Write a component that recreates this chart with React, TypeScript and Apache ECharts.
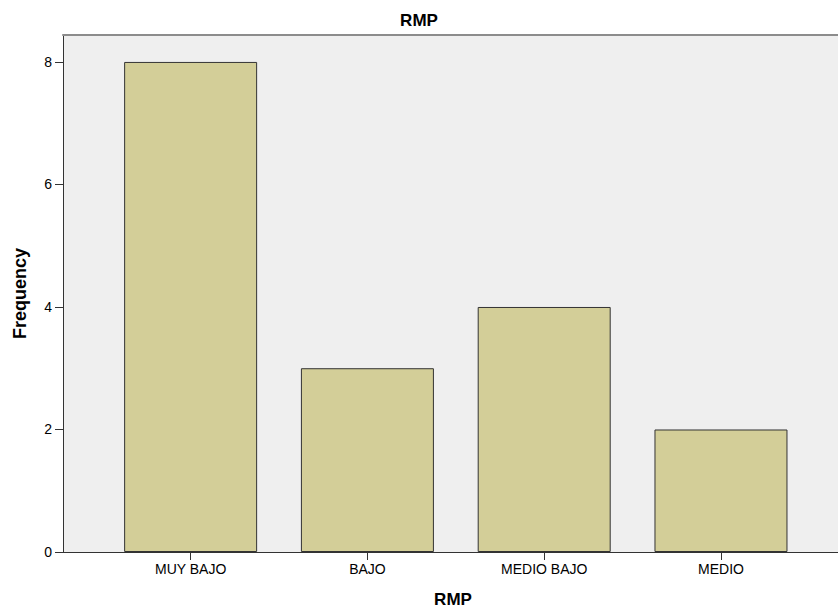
import React, { useEffect, useRef } from "react";
import * as echarts from "echarts";

const categories = ["MUY BAJO", "BAJO", "MEDIO BAJO", "MEDIO"];
const frequencies = [8, 3, 4, 2];
const yTicks = [0, 2, 4, 6, 8];
const chartTitle = "RMP";
const xName = "RMP";
const yName = "Frequency";

export default function App() {
  const ref = useRef<HTMLDivElement>(null);
  useEffect(() => {
    if (!ref.current) return;
    const chart = echarts.init(ref.current, null, { renderer: "svg" });
    const font = "'Liberation Sans', Arial, sans-serif";
    const catIdx = categories.map((_, i) => i);
    chart.setOption({
      animation: false,
      backgroundColor: "#ffffff",
      title: {
        text: chartTitle,
        left: "center",
        top: 7,
        textStyle: { fontFamily: font, fontSize: 17, fontWeight: "bold", color: "#000" },
      },
      grid: {
        left: 63,
        right: 0,
        top: 35,
        bottom: 57,
        outerBoundsMode: "none",
        containLabel: false,
        show: true,
        backgroundColor: "#efefef",
        borderWidth: 0,
      },
      xAxis: [
        {
          type: "value",
          min: -0.722,
          max: 3.662,
          position: "bottom",
          name: xName,
          nameLocation: "middle",
          nameGap: 39,
          nameTextStyle: {
            fontFamily: font,
            fontSize: 17,
            fontWeight: "bold",
            color: "#000",
            padding: [0, 0, 0, 5],
          },
          splitLine: { show: false },
          axisLine: { show: true, onZero: false, lineStyle: { color: "#333", width: 1 } },
          axisTick: { show: true, length: 8, customValues: catIdx, lineStyle: { color: "#333" } },
          axisLabel: {
            customValues: catIdx,
            formatter: (v: number) => categories[Math.round(v)] ?? "",
            fontFamily: font,
            fontSize: 14,
            color: "#000",
            margin: 10,
          },
        },
        {
          type: "value",
          min: -0.722,
          max: 3.662,
          position: "top",
          splitLine: { show: false },
          axisLine: { show: true, onZero: false, lineStyle: { color: "#8c8c8c", width: 2 } },
          axisTick: { show: false },
          axisLabel: { show: false },
        },
      ],
      yAxis: {
        type: "value",
        min: 0,
        max: 8.44,
        name: yName,
        nameLocation: "middle",
        nameGap: 34,
        nameTextStyle: { fontFamily: font, fontSize: 18, fontWeight: "bold", color: "#000" },
        splitLine: { show: false },
        axisLine: { show: true, onZero: false, lineStyle: { color: "#333", width: 1 } },
        axisTick: { show: true, length: 8, customValues: yTicks, lineStyle: { color: "#333" } },
        axisLabel: {
          customValues: yTicks,
          fontFamily: font,
          fontSize: 14,
          color: "#000",
          margin: 11,
        },
      },
      series: [
        {
          type: "bar",
          xAxisIndex: 0,
          barWidth: 133,
          data: frequencies.map((v, i) => [i, v]),
          itemStyle: { color: "#d3ce98", borderColor: "#333", borderWidth: 1 },
          silent: true,
        },
      ],
    });
    return () => chart.dispose();
  }, []);
  return <div ref={ref} style={{ width: 838, height: 609, position: "absolute", left: 0, top: 0 }} />;
}
